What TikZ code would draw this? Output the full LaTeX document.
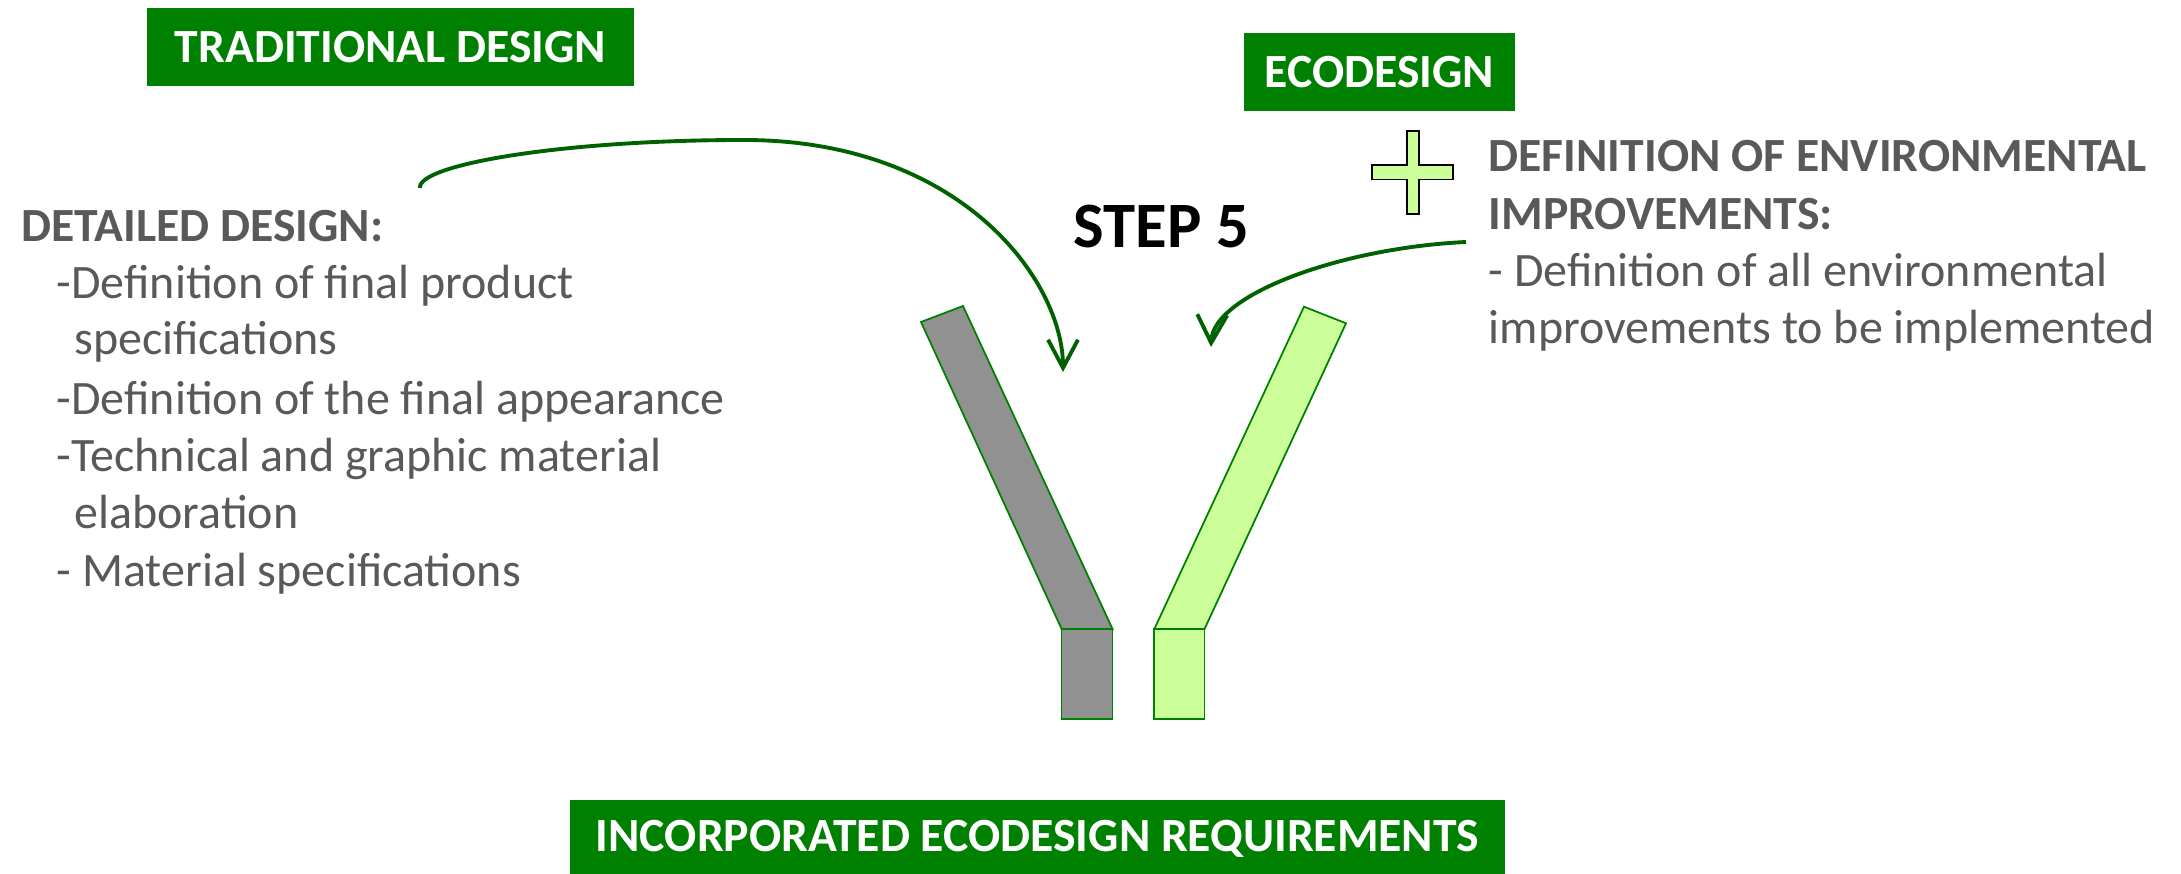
\documentclass[tikz,border=0pt]{standalone}
\usepackage{fontspec}
\setmainfont{Carlito}
\usetikzlibrary{arrows.meta}
\definecolor{boxgreen}{RGB}{0,128,0}
\definecolor{textgray}{RGB}{89,89,89}
\definecolor{bargray}{RGB}{145,145,145}
\definecolor{barlight}{RGB}{204,255,153}
\definecolor{arrowgreen}{RGB}{0,97,0}
\begin{document}
\begin{tikzpicture}[x=0.01cm, y=-0.01cm,
    title/.style={fill=boxgreen, text=white, font=\fontsize{13.55}{16}\selectfont\bfseries, inner sep=0pt, minimum height=0.78cm},
    body/.style={text=textgray, font=\fontsize{13.65}{16}\selectfont, anchor=base west, inner sep=0pt},
    head/.style={body, font=\fontsize{13.55}{16}\selectfont\bfseries},
    bar/.style={draw=boxgreen, line width=0.5pt},
    curvearrow/.style={draw=arrowgreen, line width=1.1pt, -{Straight Barb[length=8pt, width=8.5pt]}}]
    \useasboundingbox (0,0) rectangle (2181,874);
    % title boxes
    \node[title, minimum width=4.87cm] (trad) at (390.5,47) {TRADITIONAL DESIGN};
    \node[title, minimum width=2.71cm] (eco) at (1379.5,72) {ECODESIGN};
    \node[title, minimum width=9.35cm] (req) at (1037.5,839) {INCORPORATED ECODESIGN REQUIREMENTS};
    \node[font=\fontsize{18.4}{22}\selectfont\bfseries, anchor=base west, inner sep=0pt] (step) at (1073,248) {STEP 5};
    % traditional side
    \node[head] (detail) at (20.7,242) {DETAILED DESIGN:};
    \node[body] (spec1) at (56,298.5) {-Definition of final product};
    \node[body] (spec2) at (73.7,355) {specifications};
    \node[body] (look) at (56,414.5) {-Definition of the final appearance};
    \node[body] (tech1) at (56,471.5) {-Technical and graphic material};
    \node[body] (tech2) at (73.7,529) {elaboration};
    \node[body] (mat) at (56,586.3) {- Material specifications};
    % ecodesign side
    \node[head] (envhead1) at (1488,172) {DEFINITION OF ENVIRONMENTAL};
    \node[head] (envhead2) at (1488,229.6) {IMPROVEMENTS:};
    \node[body] (env1) at (1488,287) {- Definition of all environmental};
    \node[body] (env2) at (1488,344) {improvements to be implemented};
    \draw[fill=barlight, line width=0.5pt] (1407,131) -- (1419,131) -- (1419,165) -- (1453,165) -- (1453,179.5)
        -- (1419,179.5) -- (1419,214) -- (1407,214) -- (1407,179.5) -- (1372,179.5) -- (1372,165) -- (1407,165) -- cycle;
    % the two bars
    \draw[bar, fill=bargray] (921,322) -- (963,306) -- (1112.5,629) -- (1061.6,629) -- cycle;
    \draw[bar, fill=bargray] (1061.6,629) rectangle (1112.5,718.7);
    \draw[bar, fill=barlight] (1304,306.7) -- (1346,323.3) -- (1204.4,629.3) -- (1154.2,629.3) -- cycle;
    \draw[bar, fill=barlight] (1154.2,629.3) rectangle (1204.4,718.7);
    % arrows
    \coordinate (tradfrom) at (420,188);
    \coordinate (tradto) at (1063,372);
    \coordinate (ecofrom) at (1466,242);
    \coordinate (ecoto) at (1211,347);
    \draw[curvearrow] (tradfrom) .. controls (417,165) and (560,140) .. (744,140) .. controls (960,140) and (1063,280) .. (tradto);
    \draw[curvearrow] (ecofrom) .. controls (1340,248) and (1213,295) .. (ecoto);
\end{tikzpicture}
\end{document}
